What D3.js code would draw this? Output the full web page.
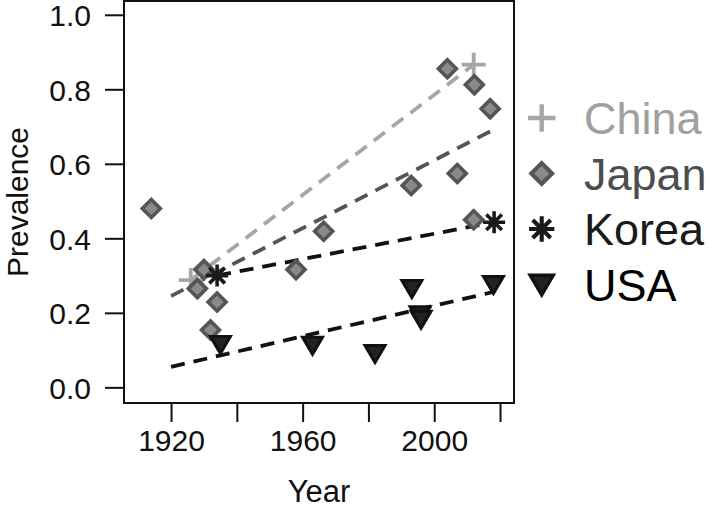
<!DOCTYPE html>
<html>
<head>
<meta charset="utf-8">
<script src="https://cdn.jsdelivr.net/npm/d3@7/dist/d3.min.js"></script>
<style>
  html, body { margin: 0; padding: 0; background: #fff; }
  svg { display: block; font-family: "Liberation Sans", Arial, Helvetica, sans-serif; }
</style>
</head>
<body>
<svg id="chart" width="709" height="510"></svg>
<script>
// ---- Data ----
const countries = ["China", "Japan", "Korea", "USA"];

const chinaYears = [1926, 2012];
const chinaPrev  = [0.288, 0.866];

const japanYears = [1914, 1928, 1930, 1932, 1934, 1958, 1966.4, 1993, 2004, 2007, 2012, 2012.2, 2017];
const japanPrev  = [0.480, 0.265, 0.316, 0.154, 0.229, 0.316, 0.419, 0.542, 0.855, 0.574, 0.450, 0.812, 0.748];

const koreaYears = [1934, 2018.2];
const koreaPrev  = [0.300, 0.443];

const usaYears = [1935, 1963, 1982, 1993.2, 1995.7, 1996, 2018];
const usaPrev  = [0.115, 0.113, 0.091, 0.265, 0.195, 0.183, 0.276];

// fitted trend lines: [start year, end year] and [start value, end value]
const chinaTrendYears = [1926, 2012];
const chinaTrendPrev  = [0.288, 0.866];
const japanTrendYears = [1920, 2017];
const japanTrendPrev  = [0.245, 0.687];
const koreaTrendYears = [1934, 2018];
const koreaTrendPrev  = [0.300, 0.443];
const usaTrendYears   = [1920, 2018];
const usaTrendPrev    = [0.055, 0.256];

const xTicks = [1920, 1940, 1960, 1980, 2000, 2020];
const xTickLabels = ["1920", "", "1960", "", "2000", ""];
const yTicks = [0, 0.2, 0.4, 0.6, 0.8, 1.0];
const yTickLabels = ["0.0", "0.2", "0.4", "0.6", "0.8", "1.0"];

// ---- Layout ----
const svg = d3.select("#chart");
const L = 124, R = 514, T = 1, B = 403;

const x = d3.scaleLinear().domain([1905.7, 2024.25]).range([L, R]);
const y = d3.scaleLinear().domain([-0.042, 1.037]).range([B, T]);

const zip = (a, b) => a.map((v, i) => [v, b[i]]);

// Axes
const xAxis = d3.axisBottom(x).tickValues(xTicks)
  .tickFormat((d, i) => xTickLabels[i]).tickSize(19).tickPadding(8);
const gx = svg.append("g").attr("transform", `translate(0,${B})`).call(xAxis);
gx.select(".domain").remove();
gx.selectAll(".tick line").attr("stroke", "#111").attr("stroke-width", 2);
gx.selectAll(".tick text").attr("font-size", 30).attr("fill", "#111")
  .attr("font-family", "Liberation Sans, Arial, sans-serif").attr("dy", "0.71em");

const yAxis = d3.axisLeft(y).tickValues(yTicks)
  .tickFormat((d, i) => yTickLabels[i]).tickSize(19).tickPadding(14);
const gy = svg.append("g").attr("transform", `translate(${L},0)`).call(yAxis);
gy.select(".domain").remove();
gy.selectAll(".tick line").attr("stroke", "#111").attr("stroke-width", 2);
gy.selectAll(".tick text").attr("font-size", 30).attr("fill", "#111")
  .attr("font-family", "Liberation Sans, Arial, sans-serif").attr("dy", "0.36em");

// Box
svg.append("rect").attr("x", L).attr("y", T).attr("width", R - L).attr("height", B - T)
  .attr("fill", "none").attr("stroke", "#111").attr("stroke-width", 2);

// Axis titles
svg.append("text").attr("x", (L + R) / 2).attr("y", 502).attr("text-anchor", "middle")
  .attr("font-size", 31).attr("fill", "#111").text("Year");
svg.append("text").attr("transform", `translate(28,${(T + B) / 2}) rotate(-90)`)
  .attr("text-anchor", "middle").attr("font-size", 30).attr("fill", "#111").text("Prevalence");

// Trend lines
const line = d3.line().x(d => x(d[0])).y(d => y(d[1]));
const trends = [
  { pts: zip(chinaTrendYears, chinaTrendPrev), color: "#a6a6a6" },
  { pts: zip(japanTrendYears, japanTrendPrev), color: "#555555" },
  { pts: zip(koreaTrendYears, koreaTrendPrev), color: "#111111" },
  { pts: zip(usaTrendYears, usaTrendPrev), color: "#111111" }
];
const plotG = svg.append("g");
trends.forEach(t => {
  plotG.append("path").attr("d", line(t.pts)).attr("fill", "none")
    .attr("stroke", t.color).attr("stroke-width", 3.8)
    .attr("stroke-dasharray", "14,9");
});

// Marker painters
function drawPlus(g, cx, cy, s) {
  const h = 12 * s;
  g.append("path").attr("d", `M${cx - h},${cy}H${cx + h}M${cx},${cy - h}V${cy + h}`)
    .attr("stroke", "#a6a6a6").attr("stroke-width", 3.8 * s).attr("fill", "none");
}
function drawDiamond(g, cx, cy, s) {
  const h = 9 * s;
  g.append("path").attr("d", `M${cx},${cy - h}L${cx + h},${cy}L${cx},${cy + h}L${cx - h},${cy}Z`)
    .attr("fill", "#8a8a8a").attr("stroke", "#555555").attr("stroke-width", 3.6 * s)
    .attr("stroke-linejoin", "miter");
}
function drawStar(g, cx, cy, s) {
  const h = 11 * s, d = h * 0.7071;
  g.append("path").attr("d",
    `M${cx - h},${cy}H${cx + h}M${cx},${cy - h}V${cy + h}` +
    `M${cx - d},${cy - d}L${cx + d},${cy + d}M${cx - d},${cy + d}L${cx + d},${cy - d}`)
    .attr("stroke", "#1a1a1a").attr("stroke-width", 3.6 * s).attr("fill", "none");
}
function drawTri(g, cx, cy, s) {
  const w = 10 * s, up = 8 * s, dn = 9 * s;
  g.append("path").attr("d", `M${cx - w},${cy - up}L${cx + w},${cy - up}L${cx},${cy + dn}Z`)
    .attr("fill", "#222222").attr("stroke", "#111111").attr("stroke-width", 3 * s)
    .attr("stroke-linejoin", "miter");
}

const ptsG = svg.append("g");
zip(chinaYears, chinaPrev).forEach(d => drawPlus(ptsG, x(d[0]), y(d[1]), 1));
zip(japanYears, japanPrev).forEach(d => drawDiamond(ptsG, x(d[0]), y(d[1]), 1));
zip(koreaYears, koreaPrev).forEach(d => drawStar(ptsG, x(d[0]), y(d[1]), 1));
zip(usaYears, usaPrev).forEach(d => drawTri(ptsG, x(d[0]), y(d[1]), 1));

// Legend
const legendColors = ["#a0a0a0", "#4d4d4d", "#1a1a1a", "#000000"];
const painters = [drawPlus, drawDiamond, drawStar, drawTri];
const legG = svg.append("g");
countries.forEach((c, i) => {
  const cy = 118 + i * 55.5;
  painters[i](legG, 541.7, cy, 1.15);
  legG.append("text").attr("x", 584).attr("y", cy + 16)
    .attr("font-size", 45).attr("fill", legendColors[i]).text(c);
});
</script>
</body>
</html>
